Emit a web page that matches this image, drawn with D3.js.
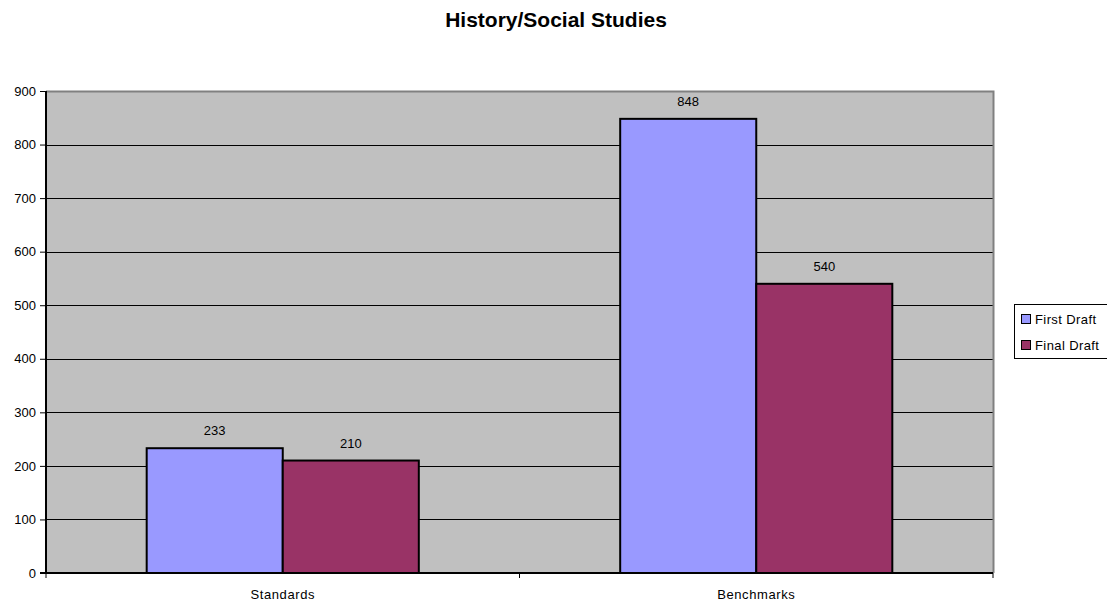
<!DOCTYPE html>
<html><head><meta charset="utf-8">
<script src="https://cdn.jsdelivr.net/npm/d3@7"></script>
<style>body{margin:0;background:#fff}svg{display:block}text{font-family:"Liberation Sans",Arial,sans-serif}</style>
</head><body>
<svg id="c" width="1107" height="601"></svg>
<script>
const categories = ["Standards", "Benchmarks"];
const seriesNames = ["First Draft", "Final Draft"];
const firstDraft = [233, 848];
const finalDraft = [210, 540];
const yTicks = [0, 100, 200, 300, 400, 500, 600, 700, 800, 900];
const colors = ["#9999FF", "#993366"];

const svg = d3.select("#c");
const L = 46, R = 993, T = 91, B = 573;
const x = d3.scaleBand().domain(categories).range([L, R]).paddingInner(0).paddingOuter(0);
const x1 = d3.scaleBand().domain(seriesNames).range([0, x.bandwidth()]).paddingInner(0).paddingOuter(0.74);
const y = d3.scaleLinear().domain([0, 900]).range([B, T]);

svg.append("rect").attr("x", L).attr("y", T).attr("width", R - L).attr("height", B - T).attr("fill", "#C0C0C0");
// gridlines
svg.append("g").selectAll("line").data(yTicks.filter(d => d > 0 && d < 900)).join("line")
  .attr("x1", L).attr("x2", R).attr("y1", d => Math.round(y(d)) + 0.5).attr("y2", d => Math.round(y(d)) + 0.5)
  .attr("stroke", "#000").attr("stroke-width", 1);
// top/right border
svg.append("path").attr("d", `M${L},${T + 0.5}H${R + 0.5}V${B}`).attr("fill", "none").attr("stroke", "#808080").attr("stroke-width", 2);

const data = categories.map((c, i) => ({c, vals: [firstDraft[i], finalDraft[i]]}));
const g = svg.append("g");
data.forEach(d => {
  d.vals.forEach((v, j) => {
    const bx = x(d.c) + x1(seriesNames[j]);
    g.append("rect").attr("x", bx).attr("y", y(v)).attr("width", x1.bandwidth()).attr("height", B - y(v))
      .attr("fill", colors[j]).attr("stroke", "#000").attr("stroke-width", 2);
    g.append("text").attr("x", bx + x1.bandwidth() / 2).attr("y", y(v) - 13)
      .attr("text-anchor", "middle").attr("font-size", 13).attr("fill", "#000").text(v);
  });
});

// y axis
const yAxis = d3.axisLeft(y).tickValues(yTicks).tickSize(6).tickPadding(4);
const ya = svg.append("g").attr("transform", `translate(${L},0)`).call(yAxis);
ya.select(".domain").attr("stroke", "#000").attr("stroke-width", 2).attr("d", `M-6,${B}H0V${T}`);
ya.selectAll(".tick line").attr("stroke", "#000");
ya.selectAll("text").attr("font-size", 13).attr("fill", "#000").attr("font-family", '"Liberation Sans",Arial,sans-serif');

// x axis
const xa = svg.append("g").attr("transform", `translate(0,${B})`);
xa.append("line").attr("x1", L).attr("x2", R).attr("y1", 0).attr("y2", 0).attr("stroke", "#000").attr("stroke-width", 2);
const bounds = [L, ...categories.map(c => x(c) + x.bandwidth())];
xa.selectAll("line.t").data(bounds).join("line").attr("class", "t")
  .attr("x1", d => d).attr("x2", d => d).attr("y1", 0).attr("y2", 5).attr("stroke", "#000");
xa.selectAll("text").data(categories).join("text")
  .attr("x", d => x(d) + x.bandwidth() / 2).attr("y", 26).attr("text-anchor", "middle")
  .attr("font-size", 13).attr("letter-spacing", 0.6).attr("fill", "#000").text(d => d);

// title
svg.append("text").attr("x", 556).attr("y", 27).attr("text-anchor", "middle")
  .attr("font-size", 21).attr("font-weight", "bold").text("History/Social Studies");

// legend
const lg = svg.append("g");
lg.append("rect").attr("x", 1014.5).attr("y", 304.5).attr("width", 100).attr("height", 54)
  .attr("fill", "#fff").attr("stroke", "#000");
seriesNames.forEach((s, i) => {
  lg.append("rect").attr("x", 1021.5).attr("y", 314.5 + i * 26).attr("width", 9).attr("height", 9)
    .attr("fill", colors[i]).attr("stroke", "#000");
  lg.append("text").attr("x", 1035).attr("y", 324 + i * 26).attr("font-size", 13)
    .attr("letter-spacing", 0.4).text(s);
});
</script>
</body></html>
